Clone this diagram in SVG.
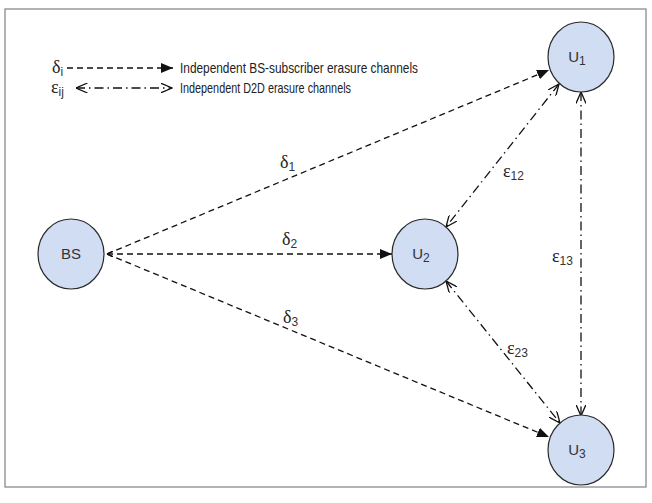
<svg xmlns="http://www.w3.org/2000/svg" width="652" height="503" viewBox="0 0 652 503">
<defs>
<marker id="fill" viewBox="0 0 12 10" refX="12" refY="5" markerWidth="12" markerHeight="10" markerUnits="userSpaceOnUse" orient="auto">
<path d="M0,0 L12,5 L0,10 z" fill="#111"/>
</marker>
<marker id="open" viewBox="0 0 12 10" refX="11.5" refY="5" markerWidth="12" markerHeight="10" markerUnits="userSpaceOnUse" orient="auto-start-reverse">
<path d="M0,0 L11.5,5 L0,10" fill="none" stroke="#111" stroke-width="1.3"/>
</marker>
<marker id="small" viewBox="0 0 6 6" refX="0" refY="3" markerWidth="6" markerHeight="6" markerUnits="userSpaceOnUse" orient="auto">
<path d="M6,0 L0,3 L6,6" fill="none" stroke="#111" stroke-width="1.3"/>
</marker>
</defs>
<style>
.frame{fill:#fff;stroke:#8a8a8a;stroke-width:1.3}
.node{fill:#d0ddf3;stroke:#2a2a2a;stroke-width:1.2}
.dash{fill:none;stroke:#111;stroke-width:1.3;stroke-dasharray:6 4}
.dd{fill:none;stroke:#111;stroke-width:1.3;stroke-dasharray:9 4 1.5 4}
.lbl{font-family:"Liberation Sans",Arial,sans-serif;font-size:15px;fill:#333}
.sub{font-family:"Liberation Sans",Arial,sans-serif;font-size:12px;fill:#333}
.gr{font-family:"Liberation Serif","Times New Roman",serif;font-size:18px;fill:#222}
.txt{font-family:"Liberation Sans",Arial,sans-serif;font-size:15px;fill:#222}
</style>
<rect class="frame" x="5" y="9" width="641" height="478"/>
<g id="legend">
<text class="gr" x="52" y="73">δ<tspan class="sub" dy="3">i</tspan></text>
<line class="dash" x1="67" y1="68" x2="173" y2="68" marker-end="url(#fill)"/>
<text class="txt" x="180" y="73" textLength="238" lengthAdjust="spacingAndGlyphs">Independent BS-subscriber erasure channels</text>
<text class="gr" x="51" y="93">ε<tspan class="sub" dy="3">ij</tspan></text>
<line class="dd" x1="76" y1="88" x2="172" y2="88" marker-start="url(#open)" marker-end="url(#open)"/>
<text class="txt" x="180" y="93" textLength="171" lengthAdjust="spacingAndGlyphs">Independent D2D erasure channels</text>
</g>
<g id="connectors">
<line class="dash" x1="107" y1="254" x2="549" y2="70" marker-end="url(#fill)"/>
<line class="dash" x1="107" y1="254" x2="392" y2="254" marker-start="url(#small)" marker-end="url(#fill)"/>
<line class="dash" x1="107" y1="254" x2="549" y2="437" marker-end="url(#fill)"/>
<line class="dd" x1="559" y1="84" x2="446" y2="227" marker-start="url(#open)" marker-end="url(#open)"/>
<line class="dd" x1="581" y1="92" x2="581" y2="416" marker-start="url(#open)" marker-end="url(#open)"/>
<line class="dd" x1="446" y1="281" x2="560" y2="423" marker-start="url(#open)" marker-end="url(#open)"/>
<text class="gr" x="280" y="168">δ<tspan class="sub" dy="3">1</tspan></text>
<text class="gr" x="282" y="245">δ<tspan class="sub" dy="3">2</tspan></text>
<text class="gr" x="283" y="323">δ<tspan class="sub" dy="3">3</tspan></text>
<text class="gr" x="503" y="177">ε<tspan class="sub" dy="3">12</tspan></text>
<text class="gr" x="552" y="262">ε<tspan class="sub" dy="3">13</tspan></text>
<text class="gr" x="507" y="354">ε<tspan class="sub" dy="3">23</tspan></text>
</g>
<g id="BS">
<ellipse class="node" cx="71" cy="254" rx="33" ry="35"/>
<text class="lbl" x="71" y="259" text-anchor="middle">BS</text>
</g>
<g id="U1">
<ellipse class="node" cx="581" cy="57" rx="33" ry="35"/>
<text class="lbl" x="577" y="62" text-anchor="middle">U<tspan class="sub" dy="3">1</tspan></text>
</g>
<g id="U2">
<ellipse class="node" cx="425" cy="254" rx="33" ry="35"/>
<text class="lbl" x="421" y="259" text-anchor="middle">U<tspan class="sub" dy="3">2</tspan></text>
</g>
<g id="U3">
<ellipse class="node" cx="581" cy="450" rx="33" ry="35"/>
<text class="lbl" x="577" y="455" text-anchor="middle">U<tspan class="sub" dy="3">3</tspan></text>
</g>
</svg>
